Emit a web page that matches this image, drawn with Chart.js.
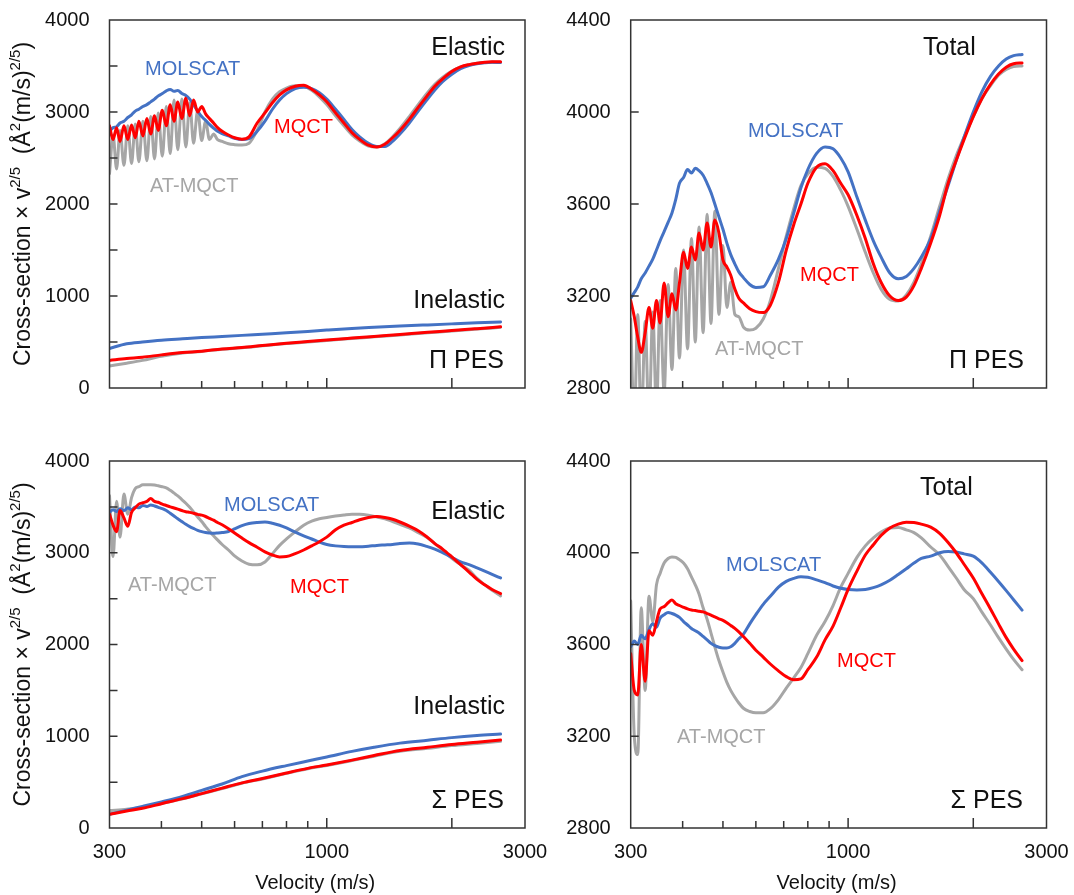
<!DOCTYPE html>
<html><head><meta charset="utf-8">
<script src="https://cdn.jsdelivr.net/npm/chart.js@4.4.0/dist/chart.umd.min.js"></script>
<style>
html,body{margin:0;padding:0;background:#fff;}
#wrap{position:relative;width:1074px;height:895px;overflow:hidden;}
#wrap canvas{position:absolute;left:0;top:0;}
</style></head>
<body><div id="wrap">
<canvas id="c0" width="1074" height="895"></canvas>
<canvas id="c1" width="1074" height="895"></canvas>
<canvas id="c2" width="1074" height="895"></canvas>
<canvas id="c3" width="1074" height="895"></canvas>
</div>
<script>
// ---------- data ----------
const velocity = [300,306,312,318,325,332,339,346,353,361,369,377,385,393,402,411,420,429,438,448,458,468,478,489,500,511,522,534,546,
  560,580,600,625,650,680,710,740,770,800,840,880,920,960,1000,1050,1100,1150,1200,1260,1320,1380,1440,1500,1580,1660,1740,1820,1900,2000,2100,2200,2300,2400,2500,2620];
const velocityInel = [300,330,360,400,450,500,560,625,700,800,900,1000,1150,1300,1500,1750,2000,2300,2620];
const xTickLabels = [300,1000,3000];
const xMinorTicks = [400,500,600,700,800,900,1000,2000];

// Pi PES, elastic
const piElasticMQCT = [2850,2700,2830,2680,2850,2700,2860,2720,2900,2740,2930,2760,2960,2800,3020,2850,3080,2900,3110,2930,3150,2960,3130,3000,3060,2980,2930,2880,2830,
  2790,2750,2720,2705,2730,2880,2990,3100,3185,3240,3280,3290,3248,3186,3111,2990,2879,2775,2702,2639,2620,2650,2720,2800,2920,3050,3170,3280,3360,3440,3490,3515,3530,3540,3545,3545];
const piElasticMOLSCAT = [2790,2830,2840,2880,2900,2940,2970,3010,3030,3060,3080,3110,3140,3175,3200,3230,3245,3225,3235,3200,3180,3140,3080,3010,2950,2910,2865,2825,2790,
  2765,2740,2715,2700,2710,2790,2900,3030,3130,3200,3255,3270,3255,3210,3140,3030,2920,2810,2730,2660,2625,2625,2680,2760,2880,3010,3130,3240,3330,3410,3470,3505,3525,3535,3540,3538];
const piElasticAT = [2330,2750,2380,2800,2420,2850,2440,2870,2460,2900,2470,2950,2490,2990,2520,3060,2550,3130,2590,3140,2620,3100,2660,3020,2690,2900,2700,2760,2700,
  2680,2655,2645,2640,2660,2800,3000,3140,3220,3260,3285,3280,3235,3165,3080,2960,2850,2750,2685,2630,2620,2655,2730,2820,2950,3080,3200,3300,3375,3445,3490,3515,3530,3538,3542,3540];
// Pi PES, inelastic
const piInelMOLSCAT = [430,480,500,520,535,548,560,572,585,600,615,630,648,660,673,686,697,708,717];
const piInelMQCT = [300,320,335,360,385,400,425,440,462,487,505,522,543,561,582,605,624,645,665];
const piInelAT = [240,270,300,345,380,398,422,437,458,483,500,517,538,556,577,600,619,640,660];
// Pi PES, total
const piTotalMQCT = [3180,3110,3020,2955,3040,3150,3060,3180,3083,3257,3110,3210,3139,3257,3390,3320,3413,3357,3474,3400,3517,3413,3530,3474,3357,3326,3290,3230,3190,
  3170,3145,3132,3128,3160,3260,3400,3510,3600,3690,3760,3775,3745,3690,3640,3550,3450,3340,3260,3200,3180,3195,3245,3320,3430,3550,3690,3790,3880,3980,4060,4120,4165,4195,4210,4213];
const piTotalMOLSCAT = [3190,3215,3240,3275,3300,3330,3360,3400,3440,3480,3520,3561,3620,3690,3715,3750,3735,3755,3745,3725,3690,3650,3600,3544,3490,3430,3380,3340,3305,
  3280,3250,3237,3240,3290,3360,3450,3560,3670,3750,3820,3848,3840,3800,3740,3630,3530,3440,3370,3300,3275,3285,3320,3370,3450,3570,3680,3790,3890,4000,4090,4155,4200,4230,4245,4250];
const piTotalAT = [3100,2650,3120,2620,3090,2650,3130,2700,3180,2780,3250,2880,3320,2930,3400,2970,3450,3000,3500,3040,3555,3080,3570,3120,3420,3150,3260,3120,3110,
  3065,3052,3060,3100,3180,3320,3460,3580,3680,3730,3760,3755,3720,3660,3590,3490,3390,3300,3230,3185,3178,3205,3260,3340,3460,3590,3710,3810,3890,3980,4060,4115,4160,4185,4198,4200];
// Sigma PES, elastic
const sigElasticMQCT = [3420,3300,3230,3460,3380,3290,3440,3490,3530,3545,3560,3590,3560,3550,3530,3515,3500,3488,3475,3460,3447,3440,3430,3418,3410,3395,3375,3355,3330,
  3305,3262,3215,3160,3110,3060,3010,2975,2955,2958,2990,3030,3075,3120,3170,3250,3300,3330,3360,3385,3395,3385,3365,3335,3290,3240,3175,3100,3040,2955,2870,2790,2710,2650,2600,2555];
const sigElasticMOLSCAT = [3440,3470,3450,3480,3460,3490,3470,3500,3490,3515,3505,3520,3510,3495,3480,3460,3430,3400,3370,3340,3310,3285,3265,3245,3230,3220,3215,3212,3215,
  3220,3232,3260,3295,3318,3330,3335,3322,3300,3270,3225,3185,3150,3115,3090,3075,3068,3065,3065,3072,3080,3085,3090,3100,3105,3095,3070,3040,3000,2950,2900,2870,2835,2800,2765,2725];
const sigElasticAT = [3620,2960,3560,3170,3640,3420,3600,3700,3720,3740,3740,3742,3738,3730,3720,3706,3680,3650,3620,3580,3540,3495,3445,3390,3340,3285,3235,3185,3140,
  3090,3030,2965,2910,2875,2868,2900,2990,3080,3150,3230,3300,3345,3370,3385,3400,3412,3420,3420,3410,3390,3370,3340,3310,3270,3220,3170,3100,3030,2940,2870,2810,2720,2650,2590,2530];
// Sigma PES, inelastic
const sigInelMOLSCAT = [150,195,235,285,345,410,480,560,620,680,730,774,835,880,925,957,985,1008,1024];
const sigInelMQCT = [150,185,215,265,320,375,435,492,540,600,650,687,740,790,845,880,910,935,959];
const sigInelAT = [190,205,225,268,318,372,430,488,535,595,645,682,735,783,835,868,898,922,945];
// Sigma PES, total
const sigTotalMQCT = [3560,3400,3380,3600,3440,3660,3640,3700,3755,3765,3782,3794,3778,3770,3762,3755,3750,3748,3745,3742,3735,3728,3720,3712,3705,3695,3683,3670,3655,
  3635,3605,3575,3545,3515,3485,3460,3446,3450,3490,3545,3620,3680,3760,3840,3920,3990,4035,4075,4108,4125,4133,4132,4125,4112,4085,4045,4000,3950,3890,3820,3755,3690,3630,3580,3530];
const sigTotalMOLSCAT = [3590,3615,3600,3640,3625,3665,3690,3675,3715,3730,3740,3735,3728,3718,3700,3685,3670,3660,3650,3635,3620,3605,3595,3588,3585,3585,3590,3605,3625,
  3645,3690,3730,3775,3810,3850,3875,3888,3895,3893,3882,3870,3855,3845,3840,3838,3840,3848,3860,3880,3905,3930,3955,3975,3985,4000,4005,4003,3995,3985,3955,3915,3875,3835,3795,3750];
const sigTotalAT = [3790,3200,3120,3760,3400,3810,3700,3860,3910,3955,3975,3982,3980,3970,3955,3930,3895,3860,3820,3760,3710,3650,3590,3530,3480,3435,3400,3370,3345,
  3322,3308,3302,3302,3320,3360,3410,3455,3500,3560,3640,3700,3770,3850,3910,3980,4030,4065,4090,4108,4110,4100,4088,4065,4025,3990,3940,3890,3840,3800,3740,3685,3630,3580,3535,3490];

// ---------- style ----------
const FONT = '"Liberation Sans", Arial, Helvetica, sans-serif';
const BLUE = 'rgb(68,114,196)', RED = 'rgb(255,0,0)', GRAY = 'rgb(166,166,166)', INK = '#111';
Chart.defaults.font.family = FONT;

function series(xs, ys, color, order) {
  return { data: xs.map((v, i) => ({ x: v, y: ys[i] })), borderColor: color, borderWidth: 3,
    pointRadius: 0, fill: false, cubicInterpolationMode: 'monotone', order,
    borderJoinStyle: 'round', borderCapStyle: 'round' };
}

const panels = [
  { id: 'c0', left: 109.5, right: 525, top: 20, bottom: 388, ymin: 0, ymax: 4000, step: 1000,
    yTicks: [500,1000,1500,2000,2500,3000,3500], xLabels: false, yTitle: true, xTitle: false,
    datasets: [series(velocity, piElasticAT, GRAY, 3), series(velocity, piElasticMOLSCAT, BLUE, 2), series(velocity, piElasticMQCT, RED, 1),
               series(velocityInel, piInelAT, GRAY, 3), series(velocityInel, piInelMOLSCAT, BLUE, 2), series(velocityInel, piInelMQCT, RED, 1)],
    texts: [
      { t: 'Elastic', x: 505, y: 48, size: 25, color: INK, align: 'right' },
      { t: 'MOLSCAT', x: 145, y: 69, size: 20, color: BLUE, align: 'left' },
      { t: 'MQCT', x: 274, y: 127, size: 20, color: RED, align: 'left' },
      { t: 'AT-MQCT', x: 150, y: 186, size: 20, color: GRAY, align: 'left' },
      { t: 'Inelastic', x: 505, y: 301, size: 25, color: INK, align: 'right' },
      { t: '\u03A0 PES', x: 504, y: 361, size: 25, color: INK, align: 'right' } ] },
  { id: 'c1', left: 630.7, right: 1046.5, top: 20, bottom: 388, ymin: 2800, ymax: 4400, step: 400,
    yTicks: [3200,3600,4000], xLabels: false, yTitle: false, xTitle: false,
    datasets: [series(velocity, piTotalAT, GRAY, 3), series(velocity, piTotalMOLSCAT, BLUE, 2), series(velocity, piTotalMQCT, RED, 1)],
    texts: [
      { t: 'Total', x: 923, y: 48, size: 25, color: INK, align: 'left' },
      { t: 'MOLSCAT', x: 748, y: 131, size: 20, color: BLUE, align: 'left' },
      { t: 'MQCT', x: 800, y: 275, size: 20, color: RED, align: 'left' },
      { t: 'AT-MQCT', x: 715, y: 349, size: 20, color: GRAY, align: 'left' },
      { t: '\u03A0 PES', x: 1024, y: 361, size: 25, color: INK, align: 'right' } ] },
  { id: 'c2', left: 109.5, right: 525, top: 461, bottom: 828, ymin: 0, ymax: 4000, step: 1000,
    yTicks: [500,1000,1500,2000,2500,3000,3500], xLabels: true, yTitle: true, xTitle: true,
    datasets: [series(velocity, sigElasticAT, GRAY, 3), series(velocity, sigElasticMOLSCAT, BLUE, 2), series(velocity, sigElasticMQCT, RED, 1),
               series(velocityInel, sigInelAT, GRAY, 3), series(velocityInel, sigInelMOLSCAT, BLUE, 2), series(velocityInel, sigInelMQCT, RED, 1)],
    texts: [
      { t: 'Elastic', x: 505, y: 512, size: 25, color: INK, align: 'right' },
      { t: 'MOLSCAT', x: 224, y: 505, size: 20, color: BLUE, align: 'left' },
      { t: 'AT-MQCT', x: 128, y: 585, size: 20, color: GRAY, align: 'left' },
      { t: 'MQCT', x: 290, y: 587, size: 20, color: RED, align: 'left' },
      { t: 'Inelastic', x: 505, y: 707, size: 25, color: INK, align: 'right' },
      { t: '\u03A3 PES', x: 504, y: 801, size: 25, color: INK, align: 'right' } ] },
  { id: 'c3', left: 630.7, right: 1046.5, top: 461, bottom: 828, ymin: 2800, ymax: 4400, step: 400,
    yTicks: [3200,3600,4000], xLabels: true, yTitle: false, xTitle: true,
    datasets: [series(velocity, sigTotalAT, GRAY, 3), series(velocity, sigTotalMOLSCAT, BLUE, 2), series(velocity, sigTotalMQCT, RED, 1)],
    texts: [
      { t: 'Total', x: 920, y: 488, size: 25, color: INK, align: 'left' },
      { t: 'MOLSCAT', x: 726, y: 565, size: 20, color: BLUE, align: 'left' },
      { t: 'MQCT', x: 837, y: 661, size: 20, color: RED, align: 'left' },
      { t: 'AT-MQCT', x: 677, y: 737, size: 20, color: GRAY, align: 'left' },
      { t: '\u03A3 PES', x: 1023, y: 801, size: 25, color: INK, align: 'right' } ] }
];

function drawRich(ctx, parts, cx, cy, rot) {
  ctx.save();
  ctx.translate(cx, cy); ctx.rotate(rot);
  let total = 0;
  parts.forEach(p => { ctx.font = (p.sup ? 15 : 23) + 'px ' + FONT; p.w = ctx.measureText(p.t).width; total += p.w; });
  let x = -total / 2;
  ctx.textAlign = 'left'; ctx.textBaseline = 'middle'; ctx.fillStyle = INK;
  parts.forEach(p => { ctx.font = (p.sup ? 15 : 23) + 'px ' + FONT; ctx.fillText(p.t, x, p.sup ? -8 : 0); x += p.w; });
  ctx.restore();
}

const decor = {
  id: 'decor',
  afterDraw(chart) {
    const P = chart.options.plugins.decor;
    const { ctx, chartArea: a, scales: { x, y } } = chart;
    ctx.save();
    ctx.strokeStyle = '#333'; ctx.lineWidth = 1.5;
    ctx.strokeRect(a.left, a.top, a.right - a.left, a.bottom - a.top);
    ctx.beginPath();
    xMinorTicks.forEach(v => {
      const px = x.getPixelForValue(v);
      const len = (v === 1000 || v === 2000) ? 10 : 7;
      ctx.moveTo(px, a.bottom); ctx.lineTo(px, a.bottom - len);
    });
    P.yTicks.forEach(v => {
      const py = y.getPixelForValue(v);
      ctx.moveTo(a.left, py); ctx.lineTo(a.left + 8, py);
    });
    ctx.stroke();
    ctx.textBaseline = 'middle';
    P.texts.forEach(t => {
      ctx.font = t.size + 'px ' + FONT; ctx.fillStyle = t.color; ctx.textAlign = t.align;
      ctx.fillText(t.t, t.x, t.y);
    });
    if (P.yTitle) {
      drawRich(ctx, [
        { t: 'Cross-section \u00D7 v' }, { t: '2/5', sup: true }, { t: '  (\u00C5' }, { t: '2', sup: true },
        { t: '(m/s)' }, { t: '2/5', sup: true }, { t: ')' }
      ], 24, (a.top + a.bottom) / 2, -Math.PI / 2);
    }
    if (P.xTitle) {
      ctx.font = '20px ' + FONT; ctx.fillStyle = INK; ctx.textAlign = 'center';
      ctx.fillText('Velocity (m/s)', (a.left + a.right) / 2 - 2, 883);
    }
    ctx.restore();
  }
};

panels.forEach(p => {
  const W = 1074, H = 895, XH = 40;
  new Chart(document.getElementById(p.id), {
    type: 'line',
    data: { datasets: p.datasets },
    options: {
      responsive: false, animation: false, devicePixelRatio: 1,
      layout: { padding: { left: 0, top: p.top, right: W - p.right, bottom: H - p.bottom - XH } },
      plugins: { legend: { display: false }, tooltip: { enabled: false },
        decor: { yTicks: p.yTicks, texts: p.texts, yTitle: p.yTitle, xTitle: p.xTitle } },
      scales: {
        x: { type: 'logarithmic', min: 300, max: 3000,
          afterBuildTicks: s => { s.ticks = xTickLabels.map(v => ({ value: v })); },
          afterFit: s => { s.height = XH; s.paddingLeft = 0; s.paddingRight = 0; },
          grid: { display: false, drawTicks: false, tickLength: 0 }, border: { display: false },
          ticks: { display: p.xLabels, autoSkip: false, maxRotation: 0, padding: 12, color: INK,
            font: { size: 20, family: FONT }, callback: v => String(v) } },
        y: { type: 'linear', min: p.ymin, max: p.ymax,
          afterFit: s => { s.width = p.left; s.paddingTop = 0; s.paddingBottom = 0; },
          grid: { display: false, drawTicks: false, tickLength: 0 }, border: { display: false },
          ticks: { stepSize: p.step, padding: 20, color: INK, font: { size: 20, family: FONT },
            callback: v => String(v) } }
      }
    },
    plugins: [decor]
  });
});
</script>
</body></html>
